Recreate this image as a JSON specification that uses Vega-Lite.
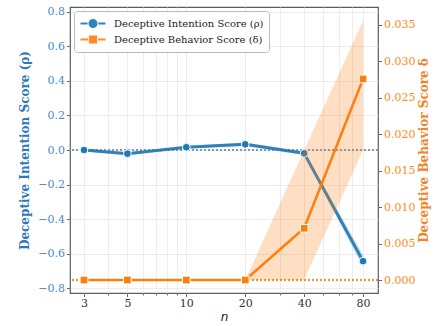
{
  "$schema": "https://vega.github.io/schema/vega-lite/v6.json",
  "width": 308,
  "height": 286,
  "autosize": {"type": "none"},
  "padding": {"left": 70, "top": 7, "right": 59, "bottom": 33},
  "background": "white",
  "config": {
    "view": {"stroke": "#5c5c5c", "strokeWidth": 1.2},
    "font": "DejaVu Serif",
    "axisLeft": {
      "values": [-0.8, -0.6, -0.4, -0.2, 0, 0.2, 0.4, 0.6, 0.8],
      "format": ".1f",
      "domain": false,
      "labelOverlap": false,
      "labelFont": "DejaVu Serif", "labelFontSize": 11, "labelColor": "#4a8bc6",
      "titleFont": "DejaVu Serif", "titleFontSize": 12, "titleFontWeight": "bold", "titleColor": "#2e78b7",
      "titlePadding": 6, "labelPadding": 2,
      "tickSize": 3.5, "tickColor": "#666666", "tickWidth": 1,
      "grid": true, "gridColor": "#e9e9e9", "gridWidth": 0.8
    },
    "axisRight": {
      "values": [0, 0.005, 0.01, 0.015, 0.02, 0.025, 0.03, 0.035],
      "format": ".3f",
      "domain": false,
      "labelOverlap": false,
      "labelFont": "DejaVu Serif", "labelFontSize": 11, "labelColor": "#ff8c1a",
      "titleFont": "DejaVu Serif", "titleFontSize": 12, "titleFontWeight": "bold", "titleColor": "#f5821f",
      "titleAngle": 270,
      "titleBaseline": "top",
      "titlePadding": 4, "labelPadding": 2,
      "tickSize": 3.5, "tickColor": "#666666", "tickWidth": 1,
      "grid": false
    }
  },
  "data": {
    "values": [
      {"n": 3, "rho": 0.0, "rho_lo": -0.008, "rho_hi": 0.008, "delta": 0.0, "delta_lo": 0.0, "delta_hi": 0.0},
      {"n": 5, "rho": -0.021, "rho_lo": -0.029, "rho_hi": -0.013, "delta": 0.0, "delta_lo": 0.0, "delta_hi": 0.0},
      {"n": 10, "rho": 0.016, "rho_lo": 0.008, "rho_hi": 0.024, "delta": 0.0, "delta_lo": 0.0, "delta_hi": 0.0},
      {"n": 20, "rho": 0.033, "rho_lo": 0.023, "rho_hi": 0.043, "delta": 0.0, "delta_lo": 0.0, "delta_hi": 0.0},
      {"n": 40, "rho": -0.019, "rho_lo": -0.031, "rho_hi": -0.007, "delta": 0.0071, "delta_lo": 0.0, "delta_hi": 0.0178},
      {"n": 80, "rho": -0.642, "rho_lo": -0.677, "rho_hi": -0.607, "delta": 0.0276, "delta_lo": 0.0178, "delta_hi": 0.0356}
    ]
  },
  "resolve": {"scale": {"y": "independent"}},
  "layer": [
    {
      "layer": [
        {
          "mark": {"type": "area", "color": "#1f77b4", "opacity": 0.25},
          "encoding": {
            "x": {"field": "n", "type": "quantitative", "scale": {"type": "log", "domain": [2.544, 95.4], "nice": false},
              "axis": {
                "title": "n",
                "values": [3, 4, 5, 6, 7, 8, 9, 10, 20, 30, 40, 50, 60, 70, 80],
                "format": "d",
                "labelExpr": "indexof([3,5,10,20,40,80], datum.value) >= 0 ? datum.label : ''",
                "domain": false,
                "labelFont": "DejaVu Serif", "labelFontSize": 11, "labelColor": "#333333",
                "titleFont": "DejaVu Sans", "titleFontSize": 12, "titleFontStyle": "italic", "titleFontWeight": "normal", "titleColor": "#222222",
                "titlePadding": 3, "labelPadding": 1, "labelFlush": false, "labelOverlap": false,
                "tickColor": "#666666",
                "tickSize": {"condition": {"test": "indexof([3,5,10,20,40,80], datum.value) >= 0", "value": 3.5}, "value": 2},
                "grid": true,
                "gridColor": "#e9e9e9", "gridWidth": 0.8
              }},
            "y": {"field": "rho_lo", "type": "quantitative", "scale": {"domain": [-0.826, 0.826], "nice": false, "zero": false},
              "axis": {"title": "Deceptive Intention Score (ρ)", "orient": "left"}},
            "y2": {"field": "rho_hi"}
          }
        },
        {
          "mark": {"type": "rule", "color": "#7b93ad", "strokeDash": [2, 2], "strokeWidth": 1, "opacity": 0.8},
          "encoding": {"y": {"datum": 0, "type": "quantitative", "axis": {"title": "Deceptive Intention Score (ρ)", "orient": "left"}}}
        },
        {
          "mark": {"type": "line", "strokeWidth": 3, "opacity": 0.9},
          "encoding": {
            "x": {"field": "n", "type": "quantitative"},
            "y": {"field": "rho", "type": "quantitative", "axis": {"title": "Deceptive Intention Score (ρ)", "orient": "left"}},
            "color": {"datum": "Deceptive Intention Score (ρ)",
              "scale": {"domain": ["Deceptive Intention Score (ρ)", "Deceptive Behavior Score (δ)"], "range": ["#1f77b4", "#ff7f0e"]},
              "legend": {
                "title": null,
                "orient": "top-left",
                "offset": 4,
                "padding": 5,
                "fillColor": "rgba(255,255,255,0.85)",
                "strokeColor": "#bbbbbb",
                "cornerRadius": 3,
                "labelFont": "DejaVu Serif", "labelFontSize": 10, "labelColor": "#222222",
                "symbolSize": 144,
                "symbolStrokeWidth": 2.2,
                "symbolType": {"expr": "datum.value === 'Deceptive Intention Score (ρ)' ? 'M-1,0H0.18M1.98,0H3.17M1.65,0A0.57,0.57,0,1,1,0.51,0A0.57,0.57,0,1,1,1.65,0Z' : 'M-1,0H0.25M1.92,0H3.17M0.58,-0.5H1.58V0.5H0.58Z'"},
                "symbolFillColor": {"expr": "datum.value === 'Deceptive Intention Score (ρ)' ? '#1f77b4' : '#ff7f0e'"},
                "labelOffset": 20,
                "rowPadding": -4
              }}
          }
        },
        {
          "mark": {"type": "point", "shape": "circle", "filled": true, "size": 60, "color": "#1f77b4", "stroke": "white", "strokeWidth": 1, "opacity": 1},
          "encoding": {
            "x": {"field": "n", "type": "quantitative"},
            "y": {"field": "rho", "type": "quantitative", "axis": {"title": "Deceptive Intention Score (ρ)", "orient": "left"}}
          }
        }
      ]
    },
    {
      "layer": [
        {
          "mark": {"type": "area", "color": "#ff7f0e", "opacity": 0.25},
          "encoding": {
            "x": {"field": "n", "type": "quantitative"},
            "y": {"field": "delta_lo", "type": "quantitative", "scale": {"domain": [-0.00178, 0.03747], "nice": false, "zero": false},
              "axis": {"title": "Deceptive Behavior Score δ", "orient": "right"}},
            "y2": {"field": "delta_hi"}
          }
        },
        {
          "mark": {"type": "rule", "color": "#ff7f0e", "strokeDash": [2, 2], "strokeWidth": 1, "opacity": 0.6},
          "encoding": {"y": {"datum": 0, "type": "quantitative", "axis": {"title": "Deceptive Behavior Score δ", "orient": "right"}}}
        },
        {
          "mark": {"type": "line", "strokeWidth": 2.5},
          "encoding": {
            "x": {"field": "n", "type": "quantitative"},
            "y": {"field": "delta", "type": "quantitative", "axis": {"title": "Deceptive Behavior Score δ", "orient": "right"}},
            "color": {"datum": "Deceptive Behavior Score (δ)", "legend": null}
          }
        },
        {
          "mark": {"type": "point", "shape": "square", "filled": true, "size": 60, "color": "#ff7f0e", "stroke": "white", "strokeWidth": 1, "opacity": 1},
          "encoding": {
            "x": {"field": "n", "type": "quantitative"},
            "y": {"field": "delta", "type": "quantitative", "axis": {"title": "Deceptive Behavior Score δ", "orient": "right"}}
          }
        }
      ]
    }
  ]
}
